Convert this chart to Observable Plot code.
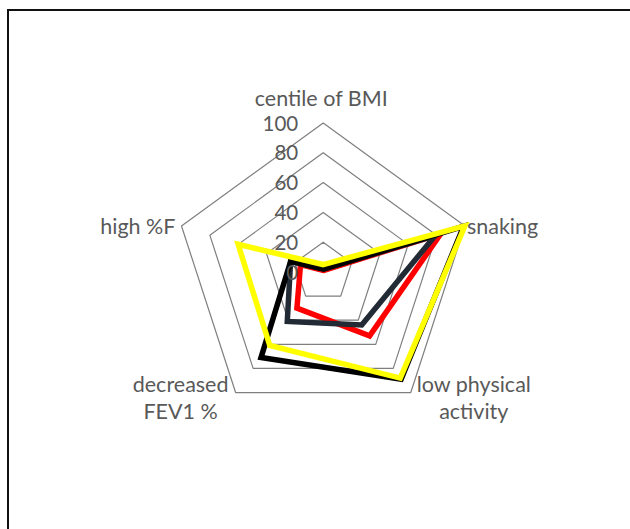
<!DOCTYPE html>
<html><head><meta charset="utf-8">
<script src="https://cdn.jsdelivr.net/npm/d3@7"></script>
<script src="https://cdn.jsdelivr.net/npm/@observablehq/plot@0.6"></script>
<style>
html,body{margin:0;padding:0;background:#fff;overflow:hidden;width:630px;height:529px}
#chart{position:absolute;left:0;top:0}
#chart svg{display:block}
#frame{position:absolute;left:7px;top:9px;width:700px;height:600px;border:2px solid #111;pointer-events:none}
</style>
</head><body>
<div id="chart"></div>
<div id="frame"></div>
<script>
// ---- data ----
const categories = ["centile of BMI", "snaking", "low physical activity", "decreased FEV1 %", "high %F"];
const categoryLabels = ["centile of BMI", "snaking", "low physical\nactivity", "decreased\nFEV1 %", "high %F"];
const seriesNames = ["Series 1", "Series 2", "Series 3", "Series 4"];
const seriesColors = ["#ff0000", "#222a35", "#000000", "#ffff00"];
const redValues = [1, 83, 53, 30, 16];
const navyValues = [2, 79, 44, 41, 23];
const blackValues = [2, 99, 89, 71, 23];
const yellowValues = [5, 100, 88, 61, 60];
const tickValues = [0, 20, 40, 60, 80, 100];
const ringLevels = [20, 40, 60, 80, 100];

// ---- build tables ----
const n = categories.length;
const ang = i => i * 2 * Math.PI / n;
const px = (i, v) => v * Math.sin(ang(i));
const py = (i, v) => v * Math.cos(ang(i));

const allValues = [redValues, navyValues, blackValues, yellowValues];
const seriesRows = allValues.map((vals, s) =>
  vals.map((v, i) => ({series: seriesNames[s], category: categories[i], value: v, x: px(i, v), y: py(i, v)}))
);
const ringRows = ringLevels.flatMap(l => categories.map((c, i) => ({level: l, x: px(i, l), y: py(i, l)})));
const tickRows = tickValues.map(t => ({t, x: 0, y: t}));

// label placement (style): anchor and pixel offsets per category
const labelStyle = [
  {anchor: "middle", dx: -2, dy: -26},
  {anchor: "start", dx: 2, dy: -1},
  {anchor: "middle", dx: 63, dy: 4},
  {anchor: "middle", dx: -55, dy: 4},
  {anchor: "end", dx: -6, dy: -1}
];
const labelRows = categories.map((c, i) => ({label: categoryLabels[i], x: px(i, 100), y: py(i, 100), ...labelStyle[i]}));

// scale: 1.49 px per unit, centre at (322.7, 271.5)
const k = 1.49, cx = 322.7, cy = 271.5, W = 630, H = 529;

const font = "Lato, 'Open Sans', sans-serif";
const fs = 21.5;
const marks = [
  Plot.line(ringRows, {x: "x", y: "y", z: "level", curve: "linear-closed", stroke: "#7f7f7f", strokeWidth: 1.2})
];
seriesRows.forEach((rows, s) => {
  marks.push(Plot.line(rows, {x: "x", y: "y", curve: "linear-closed", stroke: seriesColors[s], strokeWidth: 5.5, strokeLinejoin: "miter", strokeMiterlimit: 10}));
});
marks.push(Plot.text(tickRows, {x: "x", y: "y", text: d => String(d.t), textAnchor: "end", dx: -25, dy: 1, fill: "#595959", fontSize: 20.5, fontFamily: font}));
labelStyle.forEach((st, i) => {
  marks.push(Plot.text([labelRows[i]], {x: "x", y: "y", text: "label", textAnchor: st.anchor, dx: st.dx, dy: st.dy, fill: "#595959", fontSize: fs, fontFamily: font, lineHeight: 1.3}));
});

const chart = Plot.plot({
  width: W, height: H,
  margin: 0,
  x: {domain: [-cx / k, (W - cx) / k], range: [0, W], axis: null},
  y: {domain: [-(H - cy) / k, cy / k], range: [H, 0], axis: null},
  style: {background: "transparent", fontFamily: font},
  marks
});
document.getElementById("chart").appendChild(chart);
</script>
</body></html>
